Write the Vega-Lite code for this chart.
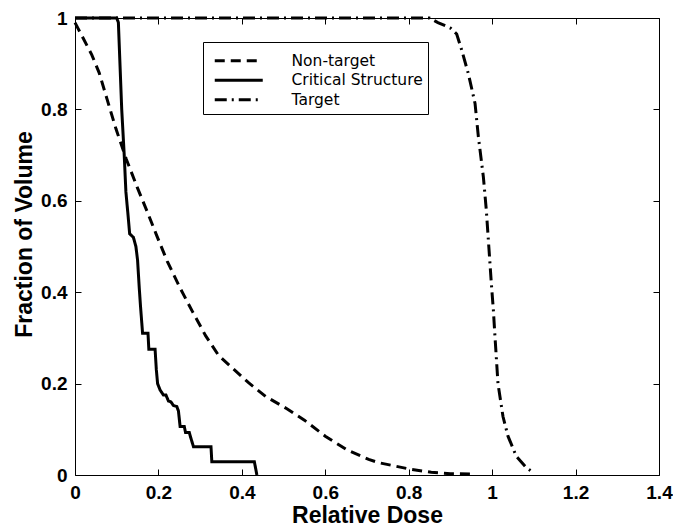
{
  "$schema": "https://vega.github.io/schema/vega-lite/v6.json",
  "autosize": "none",
  "padding": {"left": 75, "top": 18, "right": 14, "bottom": 57},
  "width": 584,
  "height": 457,
  "background": "white",
  "config": {
    "view": {"stroke": "black", "strokeWidth": 1},
    "axis": {
      "labelFont": "Liberation Sans", "labelFontWeight": "bold", "labelFontSize": 19, "labelColor": "black",
      "titleFont": "Liberation Sans", "titleFontWeight": "bold", "titleFontSize": 23, "titleColor": "black",
      "domain": false, "grid": false, "tickColor": "black", "tickSize": -6, "tickWidth": 1,
      "labelOverlap": false, "labelBound": false, "labelFlush": false
    },
    "legend": {
      "orient": "none", "legendX": 128, "legendY": 24,
      "strokeColor": "black", "fillColor": "white", "padding": 5,
      "titleFontSize": 6, "titlePadding": 0, "titleFont": "DejaVu Sans",
      "labelFont": "DejaVu Sans", "labelFontSize": 15.5, "labelColor": "black", "labelLimit": 0,
      "symbolType": "M-4,0H4", "symbolSize": 144, "symbolStrokeWidth": 3, "symbolStrokeColor": "black",
      "symbolOffset": 23, "labelOffset": 45, "rowPadding": 2.5
    }
  },
  "data": {"values": [
    {"s":"Non-target","i":0,"x":0,"y":0.99},
    {"s":"Non-target","i":1,"x":0.02,"y":0.955},
    {"s":"Non-target","i":2,"x":0.04,"y":0.92},
    {"s":"Non-target","i":3,"x":0.058,"y":0.88},
    {"s":"Non-target","i":4,"x":0.077,"y":0.822},
    {"s":"Non-target","i":5,"x":0.098,"y":0.758},
    {"s":"Non-target","i":6,"x":0.123,"y":0.691},
    {"s":"Non-target","i":7,"x":0.149,"y":0.63},
    {"s":"Non-target","i":8,"x":0.175,"y":0.572},
    {"s":"Non-target","i":9,"x":0.195,"y":0.526},
    {"s":"Non-target","i":10,"x":0.221,"y":0.468},
    {"s":"Non-target","i":11,"x":0.252,"y":0.409},
    {"s":"Non-target","i":12,"x":0.282,"y":0.357},
    {"s":"Non-target","i":13,"x":0.313,"y":0.305},
    {"s":"Non-target","i":14,"x":0.344,"y":0.262},
    {"s":"Non-target","i":15,"x":0.38,"y":0.232},
    {"s":"Non-target","i":16,"x":0.416,"y":0.202},
    {"s":"Non-target","i":17,"x":0.457,"y":0.172},
    {"s":"Non-target","i":18,"x":0.508,"y":0.145},
    {"s":"Non-target","i":19,"x":0.55,"y":0.12},
    {"s":"Non-target","i":20,"x":0.6,"y":0.085},
    {"s":"Non-target","i":21,"x":0.652,"y":0.055},
    {"s":"Non-target","i":22,"x":0.704,"y":0.034},
    {"s":"Non-target","i":23,"x":0.728,"y":0.027},
    {"s":"Non-target","i":24,"x":0.765,"y":0.02},
    {"s":"Non-target","i":25,"x":0.807,"y":0.012},
    {"s":"Non-target","i":26,"x":0.854,"y":0.006},
    {"s":"Non-target","i":27,"x":0.9,"y":0.003},
    {"s":"Non-target","i":28,"x":0.959,"y":0.002},
    {"s":"Critical Structure","i":0,"x":0,"y":1},
    {"s":"Critical Structure","i":1,"x":0.1,"y":1},
    {"s":"Critical Structure","i":2,"x":0.104,"y":0.99},
    {"s":"Critical Structure","i":3,"x":0.112,"y":0.8},
    {"s":"Critical Structure","i":4,"x":0.118,"y":0.7},
    {"s":"Critical Structure","i":5,"x":0.122,"y":0.62},
    {"s":"Critical Structure","i":6,"x":0.127,"y":0.57},
    {"s":"Critical Structure","i":7,"x":0.131,"y":0.528},
    {"s":"Critical Structure","i":8,"x":0.14,"y":0.52},
    {"s":"Critical Structure","i":9,"x":0.146,"y":0.5},
    {"s":"Critical Structure","i":10,"x":0.15,"y":0.47},
    {"s":"Critical Structure","i":11,"x":0.154,"y":0.41},
    {"s":"Critical Structure","i":12,"x":0.157,"y":0.37},
    {"s":"Critical Structure","i":13,"x":0.162,"y":0.31},
    {"s":"Critical Structure","i":14,"x":0.175,"y":0.31},
    {"s":"Critical Structure","i":15,"x":0.177,"y":0.275},
    {"s":"Critical Structure","i":16,"x":0.192,"y":0.275},
    {"s":"Critical Structure","i":17,"x":0.195,"y":0.23},
    {"s":"Critical Structure","i":18,"x":0.198,"y":0.2},
    {"s":"Critical Structure","i":19,"x":0.204,"y":0.186},
    {"s":"Critical Structure","i":20,"x":0.212,"y":0.175},
    {"s":"Critical Structure","i":21,"x":0.218,"y":0.175},
    {"s":"Critical Structure","i":22,"x":0.224,"y":0.162},
    {"s":"Critical Structure","i":23,"x":0.23,"y":0.16},
    {"s":"Critical Structure","i":24,"x":0.236,"y":0.152},
    {"s":"Critical Structure","i":25,"x":0.244,"y":0.15},
    {"s":"Critical Structure","i":26,"x":0.248,"y":0.14},
    {"s":"Critical Structure","i":27,"x":0.252,"y":0.106},
    {"s":"Critical Structure","i":28,"x":0.262,"y":0.106},
    {"s":"Critical Structure","i":29,"x":0.265,"y":0.093},
    {"s":"Critical Structure","i":30,"x":0.274,"y":0.093},
    {"s":"Critical Structure","i":31,"x":0.278,"y":0.08},
    {"s":"Critical Structure","i":32,"x":0.284,"y":0.062},
    {"s":"Critical Structure","i":33,"x":0.326,"y":0.062},
    {"s":"Critical Structure","i":34,"x":0.328,"y":0.029},
    {"s":"Critical Structure","i":35,"x":0.43,"y":0.029},
    {"s":"Critical Structure","i":36,"x":0.436,"y":0},
    {"s":"Target","i":0,"x":0,"y":1},
    {"s":"Target","i":1,"x":0.85,"y":1},
    {"s":"Target","i":2,"x":0.87,"y":0.99},
    {"s":"Target","i":3,"x":0.9,"y":0.978},
    {"s":"Target","i":4,"x":0.915,"y":0.965},
    {"s":"Target","i":5,"x":0.927,"y":0.93},
    {"s":"Target","i":6,"x":0.943,"y":0.878},
    {"s":"Target","i":7,"x":0.959,"y":0.813},
    {"s":"Target","i":8,"x":0.967,"y":0.74},
    {"s":"Target","i":9,"x":0.979,"y":0.652},
    {"s":"Target","i":10,"x":0.986,"y":0.58},
    {"s":"Target","i":11,"x":0.992,"y":0.5},
    {"s":"Target","i":12,"x":0.998,"y":0.42},
    {"s":"Target","i":13,"x":1.003,"y":0.36},
    {"s":"Target","i":14,"x":1.007,"y":0.3},
    {"s":"Target","i":15,"x":1.014,"y":0.2},
    {"s":"Target","i":16,"x":1.026,"y":0.128},
    {"s":"Target","i":17,"x":1.038,"y":0.085},
    {"s":"Target","i":18,"x":1.058,"y":0.041},
    {"s":"Target","i":19,"x":1.082,"y":0.016},
    {"s":"Target","i":20,"x":1.098,"y":0.006}
  ]},
  "layer": [
    {
      "mark": {"type": "line", "color": "black", "strokeWidth": 3, "clip": false},
      "encoding": {
        "x": {"field": "x", "type": "quantitative", "scale": {"domain": [0, 1.4], "nice": false},
          "axis": {"orient": "bottom", "values": [0,0.2,0.4,0.6,0.8,1,1.2,1.4], "format": "~g", "title": "Relative Dose", "labelPadding": 14, "titlePadding": 2}},
        "y": {"field": "y", "type": "quantitative", "scale": {"domain": [0, 1], "nice": false},
          "axis": {"orient": "left", "values": [0,0.2,0.4,0.6,0.8,1], "format": "~g", "title": "Fraction of Volume", "labelPadding": 14, "titlePadding": 4, "titleY": 216}},
        "strokeDash": {"field": "s", "type": "nominal",
          "scale": {"domain": ["Non-target", "Critical Structure", "Target"], "range": [[10,6],[1,0],[12,5,2,5]]},
          "legend": {"title": " "}},
        "order": {"field": "i", "type": "quantitative"}
      }
    },
    {
      "mark": {"type": "point", "opacity": 0},
      "encoding": {
        "x": {"field": "x", "type": "quantitative",
          "axis": {"orient": "top", "values": [0,0.2,0.4,0.6,0.8,1,1.2,1.4], "labels": false, "title": null}},
        "y": {"field": "y", "type": "quantitative",
          "axis": {"orient": "right", "values": [0,0.2,0.4,0.6,0.8,1], "labels": false, "title": null}}
      }
    }
  ],
  "resolve": {"axis": {"x": "independent", "y": "independent"}}
}
